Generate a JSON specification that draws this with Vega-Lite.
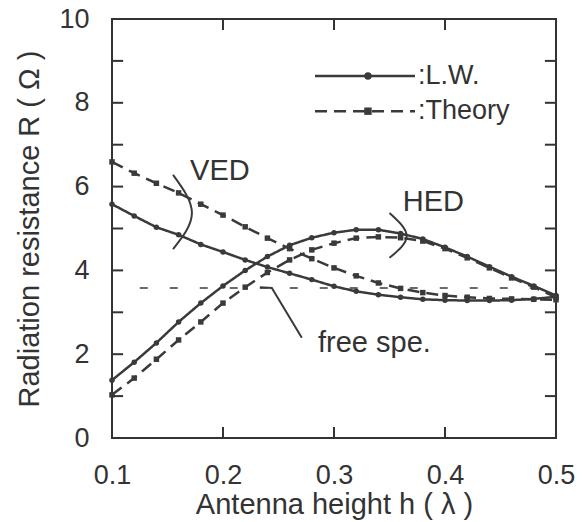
{
  "$schema": "https://vega.github.io/schema/vega-lite/v6.json",
  "width": 444,
  "height": 419,
  "autosize": "none",
  "padding": {"left": 112, "top": 19, "right": 32, "bottom": 84},
  "background": "white",
  "config": {
    "view": {"stroke": "#333333", "strokeWidth": 2},
    "font": "Liberation Sans",
    "axis": {
      "domain": false,
      "grid": false,
      "ticks": false,
      "labelFlush": false,
      "labelFont": "Liberation Sans",
      "labelFontSize": 27,
      "labelColor": "#333333",
      "titleFont": "Liberation Sans",
      "titleFontSize": 29,
      "titleFontWeight": "normal",
      "titleColor": "#333333"
    }
  },
  "datasets": {
    "curves": [
      {"h": 0.10, "R": 5.58, "series": "VED", "method": "L.W."},
      {"h": 0.12, "R": 5.30, "series": "VED", "method": "L.W."},
      {"h": 0.14, "R": 5.03, "series": "VED", "method": "L.W."},
      {"h": 0.16, "R": 4.85, "series": "VED", "method": "L.W."},
      {"h": 0.18, "R": 4.62, "series": "VED", "method": "L.W."},
      {"h": 0.20, "R": 4.44, "series": "VED", "method": "L.W."},
      {"h": 0.22, "R": 4.25, "series": "VED", "method": "L.W."},
      {"h": 0.24, "R": 4.08, "series": "VED", "method": "L.W."},
      {"h": 0.26, "R": 3.93, "series": "VED", "method": "L.W."},
      {"h": 0.28, "R": 3.78, "series": "VED", "method": "L.W."},
      {"h": 0.30, "R": 3.62, "series": "VED", "method": "L.W."},
      {"h": 0.32, "R": 3.50, "series": "VED", "method": "L.W."},
      {"h": 0.34, "R": 3.42, "series": "VED", "method": "L.W."},
      {"h": 0.36, "R": 3.36, "series": "VED", "method": "L.W."},
      {"h": 0.38, "R": 3.31, "series": "VED", "method": "L.W."},
      {"h": 0.40, "R": 3.29, "series": "VED", "method": "L.W."},
      {"h": 0.42, "R": 3.28, "series": "VED", "method": "L.W."},
      {"h": 0.44, "R": 3.28, "series": "VED", "method": "L.W."},
      {"h": 0.46, "R": 3.29, "series": "VED", "method": "L.W."},
      {"h": 0.48, "R": 3.32, "series": "VED", "method": "L.W."},
      {"h": 0.50, "R": 3.37, "series": "VED", "method": "L.W."},
      {"h": 0.10, "R": 6.59, "series": "VED", "method": "Theory"},
      {"h": 0.12, "R": 6.32, "series": "VED", "method": "Theory"},
      {"h": 0.14, "R": 6.08, "series": "VED", "method": "Theory"},
      {"h": 0.16, "R": 5.85, "series": "VED", "method": "Theory"},
      {"h": 0.18, "R": 5.58, "series": "VED", "method": "Theory"},
      {"h": 0.20, "R": 5.32, "series": "VED", "method": "Theory"},
      {"h": 0.22, "R": 5.04, "series": "VED", "method": "Theory"},
      {"h": 0.24, "R": 4.77, "series": "VED", "method": "Theory"},
      {"h": 0.26, "R": 4.52, "series": "VED", "method": "Theory"},
      {"h": 0.28, "R": 4.28, "series": "VED", "method": "Theory"},
      {"h": 0.30, "R": 4.06, "series": "VED", "method": "Theory"},
      {"h": 0.32, "R": 3.87, "series": "VED", "method": "Theory"},
      {"h": 0.34, "R": 3.70, "series": "VED", "method": "Theory"},
      {"h": 0.36, "R": 3.57, "series": "VED", "method": "Theory"},
      {"h": 0.38, "R": 3.47, "series": "VED", "method": "Theory"},
      {"h": 0.40, "R": 3.40, "series": "VED", "method": "Theory"},
      {"h": 0.42, "R": 3.36, "series": "VED", "method": "Theory"},
      {"h": 0.44, "R": 3.33, "series": "VED", "method": "Theory"},
      {"h": 0.46, "R": 3.32, "series": "VED", "method": "Theory"},
      {"h": 0.48, "R": 3.31, "series": "VED", "method": "Theory"},
      {"h": 0.50, "R": 3.30, "series": "VED", "method": "Theory"},
      {"h": 0.10, "R": 1.38, "series": "HED", "method": "L.W."},
      {"h": 0.12, "R": 1.81, "series": "HED", "method": "L.W."},
      {"h": 0.14, "R": 2.27, "series": "HED", "method": "L.W."},
      {"h": 0.16, "R": 2.77, "series": "HED", "method": "L.W."},
      {"h": 0.18, "R": 3.22, "series": "HED", "method": "L.W."},
      {"h": 0.20, "R": 3.63, "series": "HED", "method": "L.W."},
      {"h": 0.22, "R": 4.00, "series": "HED", "method": "L.W."},
      {"h": 0.24, "R": 4.33, "series": "HED", "method": "L.W."},
      {"h": 0.26, "R": 4.60, "series": "HED", "method": "L.W."},
      {"h": 0.28, "R": 4.78, "series": "HED", "method": "L.W."},
      {"h": 0.30, "R": 4.90, "series": "HED", "method": "L.W."},
      {"h": 0.32, "R": 4.97, "series": "HED", "method": "L.W."},
      {"h": 0.34, "R": 4.97, "series": "HED", "method": "L.W."},
      {"h": 0.36, "R": 4.88, "series": "HED", "method": "L.W."},
      {"h": 0.38, "R": 4.75, "series": "HED", "method": "L.W."},
      {"h": 0.40, "R": 4.55, "series": "HED", "method": "L.W."},
      {"h": 0.42, "R": 4.33, "series": "HED", "method": "L.W."},
      {"h": 0.44, "R": 4.09, "series": "HED", "method": "L.W."},
      {"h": 0.46, "R": 3.85, "series": "HED", "method": "L.W."},
      {"h": 0.48, "R": 3.63, "series": "HED", "method": "L.W."},
      {"h": 0.50, "R": 3.40, "series": "HED", "method": "L.W."},
      {"h": 0.10, "R": 1.03, "series": "HED", "method": "Theory"},
      {"h": 0.12, "R": 1.43, "series": "HED", "method": "Theory"},
      {"h": 0.14, "R": 1.88, "series": "HED", "method": "Theory"},
      {"h": 0.16, "R": 2.34, "series": "HED", "method": "Theory"},
      {"h": 0.18, "R": 2.77, "series": "HED", "method": "Theory"},
      {"h": 0.20, "R": 3.22, "series": "HED", "method": "Theory"},
      {"h": 0.22, "R": 3.60, "series": "HED", "method": "Theory"},
      {"h": 0.24, "R": 3.95, "series": "HED", "method": "Theory"},
      {"h": 0.26, "R": 4.25, "series": "HED", "method": "Theory"},
      {"h": 0.28, "R": 4.49, "series": "HED", "method": "Theory"},
      {"h": 0.30, "R": 4.65, "series": "HED", "method": "Theory"},
      {"h": 0.32, "R": 4.77, "series": "HED", "method": "Theory"},
      {"h": 0.34, "R": 4.80, "series": "HED", "method": "Theory"},
      {"h": 0.36, "R": 4.78, "series": "HED", "method": "Theory"},
      {"h": 0.38, "R": 4.70, "series": "HED", "method": "Theory"},
      {"h": 0.40, "R": 4.52, "series": "HED", "method": "Theory"},
      {"h": 0.42, "R": 4.30, "series": "HED", "method": "Theory"},
      {"h": 0.44, "R": 4.06, "series": "HED", "method": "Theory"},
      {"h": 0.46, "R": 3.82, "series": "HED", "method": "Theory"},
      {"h": 0.48, "R": 3.60, "series": "HED", "method": "Theory"},
      {"h": 0.50, "R": 3.36, "series": "HED", "method": "Theory"}
    ],
    "xticks": [
      {"h": 0.2}, {"h": 0.3}, {"h": 0.4}
    ],
    "yticks": [
      {"R": 1}, {"R": 2}, {"R": 3}, {"R": 4}, {"R": 5}, {"R": 6}, {"R": 7}, {"R": 8}, {"R": 9}
    ],
    "freespace": [
      {"h": 0.125, "R": 3.58},
      {"h": 0.5, "R": 3.58}
    ],
    "guides": [
      {"g": "VEDarc", "o": 1, "h": 0.155, "R": 6.28},
      {"g": "VEDarc", "o": 2, "h": 0.172, "R": 5.37},
      {"g": "VEDarc", "o": 3, "h": 0.155, "R": 4.51},
      {"g": "HEDarc", "o": 1, "h": 0.350, "R": 5.37},
      {"g": "HEDarc", "o": 2, "h": 0.3655, "R": 4.82},
      {"g": "HEDarc", "o": 3, "h": 0.350, "R": 4.30}
    ],
    "pointer": [
      {"o": 1, "h": 0.2333, "R": 3.60},
      {"o": 2, "h": 0.244, "R": 3.58},
      {"o": 3, "h": 0.271, "R": 2.39}
    ],
    "labels": [
      {"h": 0.1703, "R": 6.16, "text": "VED"},
      {"h": 0.362, "R": 5.42, "text": "HED"},
      {"h": 0.2856, "R": 2.05, "text": "free spe."}
    ],
    "legendLines": [
      {"h": 0.2829, "R": 8.64, "method": "L.W."},
      {"h": 0.373, "R": 8.64, "method": "L.W."},
      {"h": 0.2829, "R": 7.80, "method": "Theory"},
      {"h": 0.373, "R": 7.80, "method": "Theory"}
    ],
    "legendMarks": [
      {"h": 0.3306, "R": 8.64, "method": "L.W.", "text": ":L.W."},
      {"h": 0.3306, "R": 7.80, "method": "Theory", "text": ":Theory"}
    ]
  },
  "layer": [
    {
      "data": {"name": "curves"},
      "mark": {"type": "line", "color": "#3a3a3a", "strokeWidth": 2.5},
      "encoding": {
        "x": {
          "field": "h", "type": "quantitative",
          "scale": {"domain": [0.1, 0.5], "nice": false, "zero": false},
          "axis": {"orient": "bottom", "values": [0.1, 0.2, 0.3, 0.4, 0.5], "format": ".1f", "labelPadding": 24, "title": "Antenna height h ( λ )", "titlePadding": 2}
        },
        "y": {
          "field": "R", "type": "quantitative",
          "scale": {"domain": [0, 10], "nice": false},
          "axis": {"orient": "left", "values": [0, 2, 4, 6, 8, 10], "labelPadding": 23, "title": "Radiation resistance R ( Ω )", "titlePadding": 14}
        },
        "detail": {"field": "series"},
        "strokeDash": {
          "field": "method", "type": "nominal",
          "scale": {"domain": ["L.W.", "Theory"], "range": [[1, 0], [12, 7]]},
          "legend": null
        }
      }
    },
    {
      "data": {"name": "curves"},
      "mark": {"type": "point", "filled": true, "color": "#3a3a3a", "opacity": 1, "size": 30},
      "encoding": {
        "x": {"field": "h", "type": "quantitative"},
        "y": {"field": "R", "type": "quantitative"},
        "shape": {
          "field": "method", "type": "nominal",
          "scale": {"domain": ["L.W.", "Theory"], "range": ["circle", "square"]},
          "legend": null
        }
      }
    },
    {
      "data": {"name": "xticks"},
      "mark": {"type": "rule", "color": "#333333", "strokeWidth": 2},
      "encoding": {
        "x": {"field": "h", "type": "quantitative"},
        "y": {"datum": 0, "type": "quantitative"},
        "y2": {"datum": 0.26}
      }
    },
    {
      "data": {"name": "xticks"},
      "mark": {"type": "rule", "color": "#333333", "strokeWidth": 2},
      "encoding": {
        "x": {"field": "h", "type": "quantitative"},
        "y": {"datum": 10, "type": "quantitative"},
        "y2": {"datum": 9.74}
      }
    },
    {
      "data": {"name": "yticks"},
      "mark": {"type": "rule", "color": "#333333", "strokeWidth": 2},
      "encoding": {
        "y": {"field": "R", "type": "quantitative"},
        "x": {"datum": 0.1, "type": "quantitative"},
        "x2": {"datum": 0.11}
      }
    },
    {
      "data": {"name": "yticks"},
      "mark": {"type": "rule", "color": "#333333", "strokeWidth": 2},
      "encoding": {
        "y": {"field": "R", "type": "quantitative"},
        "x": {"datum": 0.5, "type": "quantitative"},
        "x2": {"datum": 0.49}
      }
    },
    {
      "data": {"name": "freespace"},
      "mark": {"type": "line", "color": "#3a3a3a", "strokeWidth": 1.6, "strokeDash": [8, 22]},
      "encoding": {
        "x": {"field": "h", "type": "quantitative"},
        "y": {"field": "R", "type": "quantitative"}
      }
    },
    {
      "data": {"name": "guides"},
      "mark": {"type": "line", "color": "#3a3a3a", "strokeWidth": 2, "interpolate": "natural"},
      "encoding": {
        "x": {"field": "h", "type": "quantitative"},
        "y": {"field": "R", "type": "quantitative"},
        "detail": {"field": "g"},
        "order": {"field": "o"}
      }
    },
    {
      "data": {"name": "pointer"},
      "mark": {"type": "line", "color": "#3a3a3a", "strokeWidth": 2},
      "encoding": {
        "x": {"field": "h", "type": "quantitative"},
        "y": {"field": "R", "type": "quantitative"},
        "order": {"field": "o"}
      }
    },
    {
      "data": {"name": "labels"},
      "mark": {"type": "text", "align": "left", "baseline": "alphabetic", "fontSize": 29, "color": "#333333", "font": "Liberation Sans"},
      "encoding": {
        "x": {"field": "h", "type": "quantitative"},
        "y": {"field": "R", "type": "quantitative"},
        "text": {"field": "text"}
      }
    },
    {
      "data": {"name": "legendLines"},
      "mark": {"type": "line", "color": "#3a3a3a", "strokeWidth": 2.5},
      "encoding": {
        "x": {"field": "h", "type": "quantitative"},
        "y": {"field": "R", "type": "quantitative"},
        "strokeDash": {"field": "method", "type": "nominal", "legend": null}
      }
    },
    {
      "data": {"name": "legendMarks"},
      "mark": {"type": "point", "filled": true, "color": "#3a3a3a", "opacity": 1, "size": 55},
      "encoding": {
        "x": {"field": "h", "type": "quantitative"},
        "y": {"field": "R", "type": "quantitative"},
        "shape": {"field": "method", "type": "nominal", "legend": null}
      }
    },
    {
      "data": {"name": "legendMarks"},
      "mark": {"type": "text", "align": "left", "baseline": "middle", "fontSize": 27, "color": "#333333", "font": "Liberation Sans", "dx": 50},
      "encoding": {
        "x": {"field": "h", "type": "quantitative"},
        "y": {"field": "R", "type": "quantitative"},
        "text": {"field": "text"}
      }
    }
  ]
}
